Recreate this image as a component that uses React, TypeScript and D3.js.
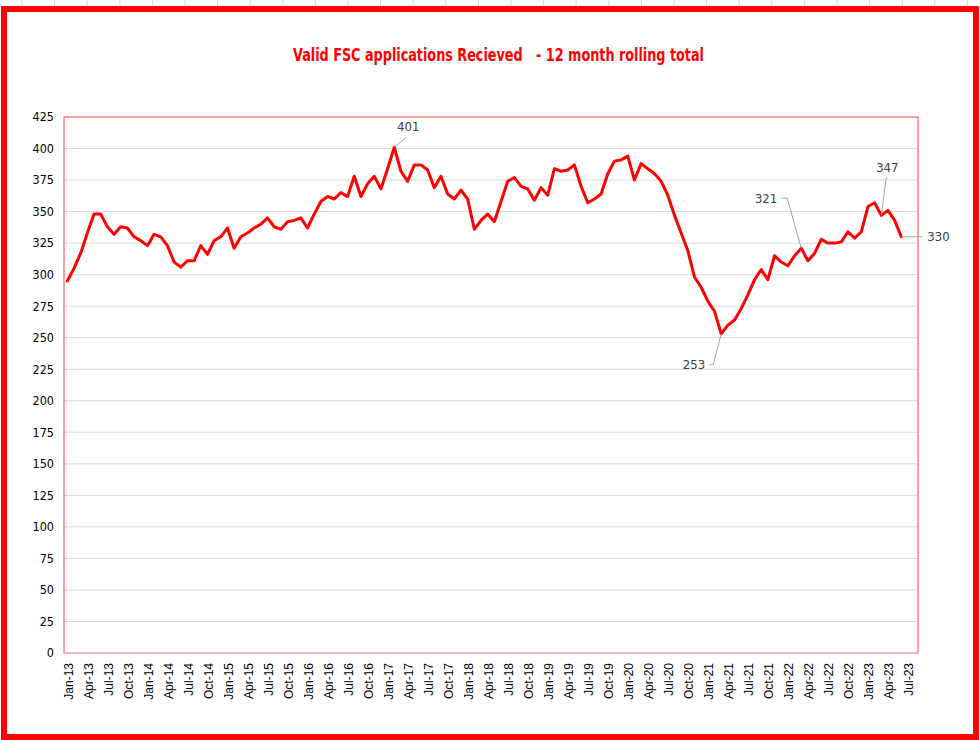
import React from "react";
import * as d3 from "d3";

const title = "Valid FSC applications Recieved   - 12 month rolling total";

// Monthly categories Jan-13 .. Aug-23 (axis), data Jan-13 .. Jun-23
const firstMonth = new Date(2013, 0, 1);
const endMonth = new Date(2023, 8, 1);
const categories: Date[] = d3.timeMonth.range(firstMonth, endMonth);

const rollingTotal: number[] = [
  295, 305, 317, 333, 348, 348, 338, 332, 338, 337, 330, 327,
  323, 332, 330, 323, 310, 306, 311, 311, 323, 316, 327, 330,
  337, 321, 330, 333, 337, 340, 345, 338, 336, 342, 343, 345,
  337, 348, 358, 362, 360, 365, 362, 378, 362, 372, 378, 368,
  384, 401, 382, 374, 387, 387, 383, 369, 378, 364, 360, 367,
  360, 336, 343, 348, 342, 358, 374, 377, 370, 368, 359, 369,
  363, 384, 382, 383, 387, 370, 357, 360, 364, 380, 390, 391,
  394, 375, 388, 384, 380, 374, 363, 347, 333, 319, 298, 290,
  279, 271, 253, 260, 264, 273, 284, 296, 304, 296, 315, 310,
  307, 315, 321, 311, 317, 328, 325, 325, 326, 334, 329, 334,
  354, 357, 347, 351, 343, 330,
];

const yTicks: number[] = d3.range(0, 426, 25);
const labelledIndices: number[] = [49, 98, 110, 122, 125];

const fmt = d3.timeFormat("%b-%y");

export default function App() {
  const W = 980, H = 740;
  const left = 64, right = 918, top = 117, bottom = 653;

  const x = d3
    .scaleBand<number>()
    .domain(categories.map((_, i) => i))
    .range([left, right])
    .paddingInner(0)
    .paddingOuter(0);
  const cx = (i: number) => (x(i) as number) + x.bandwidth() / 2;
  const y = d3.scaleLinear().domain([0, 425]).range([bottom, top]);

  const line = d3
    .line<number>()
    .x((_, i) => cx(i))
    .y((d) => y(d));

  const xTickIdx = categories
    .map((d, i) => ({ d, i }))
    .filter((o) => o.d.getMonth() % 3 === 0);

  const labelFont = "'Liberation Sans Narrow', 'DejaVu Sans Condensed', 'Arial Narrow', 'Liberation Sans', sans-serif";

  const annotations = labelledIndices.map((i) => {
    const px = cx(i);
    const py = y(rollingTotal[i]);
    const v = String(rollingTotal[i]);
    let path = "";
    let tx = 0, ty = 0, anchor = "middle";
    if (i === 49) {
      path = `M${px},${py}L${px + 12},${py - 10}`;
      tx = px + 14; ty = py - 21; anchor = "middle";
    } else if (i === 98) {
      path = `M${px},${py}L${px - 8},${py + 31}L${px - 12},${py + 31}`;
      tx = px - 16; ty = py + 31; anchor = "end";
    } else if (i === 110) {
      path = `M${px},${py}L${px - 14},${py - 50}L${px - 20},${py - 50}`;
      tx = px - 24; ty = py - 50; anchor = "end";
    } else if (i === 122) {
      path = `M${px},${py}L${px + 5},${py - 38}`;
      tx = px + 6; ty = py - 48; anchor = "middle";
    } else {
      path = `M${px},${py}L${px + 21},${py}`;
      tx = px + 26; ty = py; anchor = "start";
    }
    return { i, path, tx, ty, anchor, v };
  });

  const cellLines = d3.range(22, 980, 32.6);

  return (
    <div style={{ position: "absolute", left: 0, top: 0 }}>
      <svg width={W} height={H} style={{ display: "block", background: "#fff" }}>
        {cellLines.map((cxl, k) => (
          <line key={k} x1={cxl} x2={cxl} y1={0} y2={7} stroke="#d9d9d9" strokeWidth={1} />
        ))}
        <rect x={4} y={9} width={972} height={728} fill="#fff" stroke="#ff0000" strokeWidth={6} />
        <text
          x={293}
          y={61}
          textAnchor="start"
          fill="#ff0000"
          fontWeight="bold"
          fontSize={18}
          fontFamily={labelFont}
          textLength={411}
          lengthAdjust="spacingAndGlyphs"
          style={{ whiteSpace: "pre" }}
        >
          {title}
        </text>
        {yTicks.map((t) => (
          <g key={t}>
            {t > 0 && t < 425 && (
              <line x1={left} x2={right} y1={y(t)} y2={y(t)} stroke="#d9d9d9" strokeWidth={1} />
            )}
            <text
              x={54}
              y={y(t)}
              dy="0.35em"
              textAnchor="end"
              fontSize={12.5}
              fontFamily={labelFont}
              fill="#000"
            >
              {t}
            </text>
          </g>
        ))}
        <rect x={left} y={top} width={right - left} height={bottom - top} fill="none" stroke="#ff4040" strokeWidth={1} />
        <line x1={left} x2={right} y1={bottom} y2={bottom} stroke="#d9d9d9" strokeWidth={1} />
        {xTickIdx.map(({ d, i }) => (
          <text
            key={i}
            transform={`translate(${cx(i) + 1},${bottom + 10}) rotate(-90)`}
            textAnchor="end"
            dy="0.35em"
            fontSize={12}
            fontFamily="'Liberation Sans', Arial, sans-serif"
            fill="#000"
          >
            {fmt(d)}
          </text>
        ))}
        <path
          d={line(rollingTotal) || ""}
          fill="none"
          stroke="#ff0000"
          strokeWidth={3}
          strokeLinejoin="round"
          strokeLinecap="round"
        />
        {annotations.map((a) => (
          <g key={a.i}>
            <path d={a.path} fill="none" stroke="#a6a6a6" strokeWidth={1} />
            <text
              x={a.tx}
              y={a.ty}
              dy="0.35em"
              textAnchor={a.anchor as any}
              fontSize={13}
              fontFamily={labelFont}
              fill="#404040"
            >
              {a.v}
            </text>
          </g>
        ))}
      </svg>
    </div>
  );
}
